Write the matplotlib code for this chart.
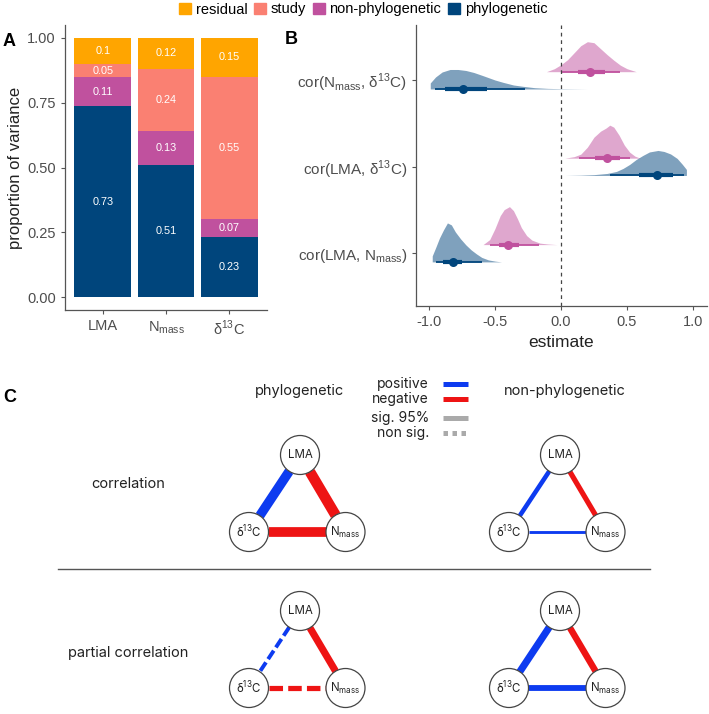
import matplotlib
matplotlib.use("Agg")
import matplotlib.pyplot as plt
from matplotlib.patches import Patch, Circle
import numpy as np

W, H = 709, 714
plt.rcParams["font.family"] = ["Liberation Sans", "DejaVu Sans"]

# ---- panel A: variance partitioning ----
traits = ["LMA", r"N$_\mathregular{mass}$", r"δ$^\mathregular{13}$C"]
components = ["phylogenetic", "non-phylogenetic", "study", "residual"]
phylo_var = [0.73, 0.51, 0.23]
nonphylo_var = [0.11, 0.13, 0.07]
study_var = [0.05, 0.24, 0.55]
resid_var = [0.10, 0.12, 0.15]
comp_colors = ["#00457C", "#C0519E", "#FA8072", "#FFA500"]

# ---- panel B: posterior correlations (row 1 = bottom) ----
pair_labels = [r"cor(LMA, N$_\mathregular{mass}$)",
               r"cor(LMA, δ$^\mathregular{13}$C)",
               r"cor(N$_\mathregular{mass}$, δ$^\mathregular{13}$C)"]

# densities: x = estimate, h = slab height (px at source scale)
lma_nm_phy_x = [-0.975, -0.975, -0.95, -0.92, -0.89, -0.86, -0.83, -0.80, -0.76, -0.72, -0.68, -0.64, -0.60, -0.55, -0.50, -0.45]
lma_nm_phy_h = [0, 6, 14, 24, 32, 39, 37, 30, 23, 17, 12, 8, 4.5, 2, 0.8, 0]
lma_nm_non_x = [-0.59, -0.54, -0.50, -0.46, -0.43, -0.39, -0.36, -0.33, -0.30, -0.26, -0.22, -0.16, -0.10, -0.03]
lma_nm_non_h = [0, 5, 16, 29, 35, 38, 34, 26, 17, 9, 4.5, 1.5, 0.6, 0]
lma_dc_phy_x = [0.03, 0.15, 0.25, 0.35, 0.42, 0.47, 0.52, 0.57, 0.62, 0.67, 0.735, 0.78, 0.83, 0.88, 0.92, 0.95, 0.95]
lma_dc_phy_h = [0, 0.3, 0.8, 2, 4, 7, 11, 16, 20, 23.5, 25, 24, 21.5, 17, 11, 6, 0]
lma_dc_non_x = [0.03, 0.10, 0.15, 0.20, 0.25, 0.30, 0.34, 0.37, 0.40, 0.44, 0.48, 0.52, 0.56, 0.60]
lma_dc_non_h = [0, 1.5, 4, 11, 21, 27, 30, 33, 31, 23, 13, 6, 2, 0]
nm_dc_phy_x = [-0.99, -0.99, -0.95, -0.90, -0.84, -0.78, -0.72, -0.66, -0.59, -0.50, -0.44, -0.36, -0.29, -0.20, -0.10, 0.00, 0.10, 0.20]
nm_dc_phy_h = [0, 6, 12, 17, 19.5, 19.5, 18.5, 16.5, 13.3, 9, 6.7, 4, 2.7, 1.3, 0.6, 0.3, 0.15, 0]
nm_dc_non_x = [-0.11, -0.05, 0.00, 0.05, 0.10, 0.15, 0.20, 0.25, 0.30, 0.35, 0.40, 0.45, 0.50, 0.57]
nm_dc_non_h = [0, 3, 7, 12, 19, 26, 30, 29, 23, 17, 11.5, 6.5, 3, 0]

# point estimate, 66% and 95% intervals
lma_nm_phy_int = [-0.82, -0.89, -0.75, -0.95, -0.60]
lma_nm_non_int = [-0.40, -0.47, -0.32, -0.54, -0.17]
lma_dc_phy_int = [0.73, 0.59, 0.85, 0.37, 0.93]
lma_dc_non_int = [0.35, 0.26, 0.45, 0.14, 0.52]
nm_dc_phy_int = [-0.745, -0.88, -0.56, -0.955, -0.27]
nm_dc_non_int = [0.22, 0.13, 0.33, 0.01, 0.45]

# ---- panel C: correlation networks (edges: LMA-d13C, LMA-Nmass, d13C-Nmass) ----
net_titles = ["phylogenetic", "non-phylogenetic"]
row_titles = ["correlation", "partial correlation"]
cor_phy = [0.73, -0.82, -0.75]
cor_non = [0.35, -0.40, 0.22]
pcor_phy = [0.30, -0.55, -0.40]
pcor_non = [0.55, -0.50, 0.45]
sig_cor_phy = [True, True, True]
sig_cor_non = [True, True, True]
sig_pcor_phy = [False, True, False]
sig_pcor_non = [True, True, True]

PHY = "#00457C"
NON = "#C0519E"
POS = "#0D3BF0"
NEG = "#EE1414"
TXT = "#4D4D4D"
AXC = "#555555"


def px_rect(left, top, right, bottom):
    return [left / W, 1 - bottom / H, (right - left) / W, (bottom - top) / H]


def style_axes(ax):
    for s in ["top", "right"]:
        ax.spines[s].set_visible(False)
    for s in ["left", "bottom"]:
        ax.spines[s].set_color(AXC)
        ax.spines[s].set_linewidth(0.9)
    ax.tick_params(colors=AXC, labelcolor=TXT, labelsize=10.5, length=3, width=0.8)


fig = plt.figure(figsize=(W / 100, H / 100), dpi=100)

# ---- A ----
axA = fig.add_axes(px_rect(65, 25, 267, 310))
style_axes(axA)
stack = np.array([phylo_var, nonphylo_var, study_var, resid_var])
totals = stack.sum(axis=0)
xpos = np.arange(len(traits))
bottom = np.zeros(len(traits))
for vals, col in zip(stack, comp_colors):
    h = vals / totals
    axA.bar(xpos, h, bottom=bottom, width=0.9, color=col, edgecolor="none")
    for xi, b, hi, v in zip(xpos, bottom, h, vals):
        axA.text(xi, b + hi / 2, f"{v:g}", color="white", fontsize=7.8,
                 ha="center", va="center")
    bottom += h
axA.set_xlim(-0.6, 2.6)
axA.set_ylim(-0.05, 1.05)
axA.set_xticks(xpos)
axA.set_xticklabels(traits)
axA.set_yticks([0, 0.25, 0.5, 0.75, 1.0])
axA.set_yticklabels(["0.00", "0.25", "0.50", "0.75", "1.00"])
axA.set_ylabel("proportion of variance", fontsize=12, color="#222222", labelpad=3)

# ---- B ----
axB = fig.add_axes(px_rect(416, 25, 707, 306))
style_axes(axB)
SLAB = 1 / 86.5
DODGE = 0.1
rows = [
    (1, lma_nm_phy_x, lma_nm_phy_h, lma_nm_phy_int, lma_nm_non_x, lma_nm_non_h, lma_nm_non_int),
    (2, lma_dc_phy_x, lma_dc_phy_h, lma_dc_phy_int, lma_dc_non_x, lma_dc_non_h, lma_dc_non_int),
    (3, nm_dc_phy_x, nm_dc_phy_h, nm_dc_phy_int, nm_dc_non_x, nm_dc_non_h, nm_dc_non_int),
]
for y, px_, ph, pint, nx, nh, nint in rows:
    for xs, hs, itv, col, base in [(nx, nh, nint, NON, y + DODGE),
                                   (px_, ph, pint, PHY, y - DODGE)]:
        hs = np.array(hs) * SLAB
        axB.fill_between(xs, base, base + hs, color=col, alpha=0.5, lw=0)
        axB.plot([itv[3], itv[4]], [base, base], color=col, lw=1.3, solid_capstyle="butt")
        axB.plot([itv[1], itv[2]], [base, base], color=col, lw=3.0, solid_capstyle="butt")
        axB.plot(itv[0], base, "o", color=col, ms=6.5, mec="none")
axB.axvline(0, color="#444444", lw=0.9, ls=(0, (3, 3)))
axB.set_xlim(-1.098, 1.106)
axB.set_ylim(0.39, 3.64)
axB.set_xticks([-1, -0.5, 0, 0.5, 1])
axB.set_xticklabels(["-1.0", "-0.5", "0.0", "0.5", "1.0"])
axB.set_yticks([1, 2, 3])
axB.set_yticklabels(pair_labels, fontsize=11)
axB.set_xlabel("estimate", fontsize=12.5, color="#222222", labelpad=4)

# shared legend on top
handles = [Patch(color=c, label=n) for c, n in zip(comp_colors[::-1], components[::-1])]
fig.legend(handles=handles, loc="center", bbox_to_anchor=(363 / W, 1 - 9.5 / H),
           ncol=4, frameon=False, fontsize=10.5, handlelength=0.85, handleheight=0.85,
           handletextpad=0.3, columnspacing=0.45, borderaxespad=0, borderpad=0)

# ---- C ----
axC = fig.add_axes([0, 0, 1, 1], facecolor="none")
axC.set_xlim(0, W)
axC.set_ylim(H, 0)
axC.axis("off")
CF = ["Inter", "DejaVu Sans"]
R = 19.5
node_offsets = {"LMA": (0, 0), "d13C": (-51, 77), "Nmass": (45.5, 77)}
node_text = {"LMA": "LMA", "d13C": r"δ$^\mathregular{13}$C", "Nmass": r"N$_\mathregular{mass}$"}
edges = [("LMA", "d13C"), ("LMA", "Nmass"), ("d13C", "Nmass")]


def draw_network(cx, cy, cors, sigs):
    pos = {k: (cx + dx, cy + dy) for k, (dx, dy) in node_offsets.items()}
    for (a, b), r, s in zip(edges, cors, sigs):
        (x1, y1), (x2, y2) = pos[a], pos[b]
        d = np.hypot(x2 - x1, y2 - y1)
        ux, uy = (x2 - x1) / d, (y2 - y1) / d
        w = abs(r) * 13 * 0.72
        ls = "-" if s else (0, (2.6, 1.0))
        axC.plot([x1 + ux * R, x2 - ux * R], [y1 + uy * R, y2 - uy * R],
                 color=POS if r > 0 else NEG, lw=w, ls=ls,
                 solid_capstyle="butt", dash_capstyle="butt", zorder=1)
    for k, (x, y) in pos.items():
        axC.add_patch(Circle((x, y), R, facecolor="white", edgecolor="#444444", lw=0.9, zorder=2))
        axC.text(x, y, node_text[k], ha="center", va="center", fontsize=8.3,
                 family=CF, color="#222222", zorder=3)


draw_network(300, 455, cor_phy, sig_cor_phy)
draw_network(560, 455, cor_non, sig_cor_non)
draw_network(300, 611, pcor_phy, sig_pcor_phy)
draw_network(560, 611, pcor_non, sig_pcor_non)

axC.text(300, 391, net_titles[0], ha="center", va="center", fontsize=10.5, family=CF, color="#222222")
axC.text(565, 391, net_titles[1], ha="center", va="center", fontsize=10.5, family=CF, color="#222222")
axC.text(128, 484, row_titles[0], ha="center", va="center", fontsize=10.5, family=CF, color="#222222")
axC.text(128, 653, row_titles[1], ha="center", va="center", fontsize=10.5, family=CF, color="#222222")
axC.plot([58, 650], [569, 569], color="#555555", lw=1.0)

leg_items = [("positive", POS, "-", 384), ("negative", NEG, "-", 399),
             ("sig. 95%", "#AAAAAA", "-", 418), ("non sig.", "#AAAAAA", (0, (0.9, 0.9)), 433)]
for lab, col, ls, y in leg_items:
    axC.text(429, y, lab, ha="right", va="center", fontsize=10, family=CF, color="#222222")
    axC.plot([443, 468], [y, y], color=col, lw=3.6, ls=ls, solid_capstyle="butt", dash_capstyle="butt")

# panel letters
for lab, x, y in [("A", 3, 42), ("B", 285, 39), ("C", 3, 397)]:
    fig.text(x / W, 1 - y / H, lab, fontsize=13, fontweight="bold", ha="left", va="center")

fig.savefig("out.png", dpi=100)
